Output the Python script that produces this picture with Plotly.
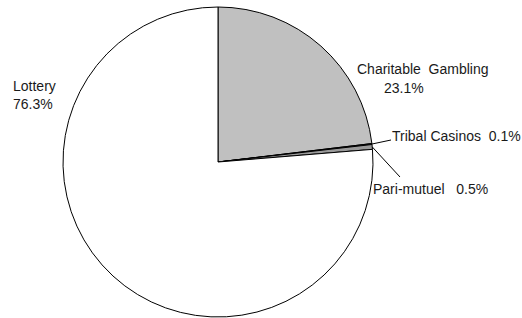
import math
import plotly.graph_objects as go

labels = ["Charitable Gambling", "Tribal Casinos", "Pari-mutuel", "Lottery"]
values = [23.1, 0.1, 0.5, 76.3]
colors = ["#c0c0c0", "#303030", "#9a9a9a", "#ffffff"]

W, H = 522, 318
cx, cy, r = 218, 162, 155

fig = go.Figure(go.Pie(
    labels=labels, values=values, sort=False, direction="clockwise", rotation=0,
    marker=dict(colors=colors, line=dict(color="#000000", width=1)),
    textinfo="none", hoverinfo="label+percent", showlegend=False,
    domain=dict(x=[(cx - r) / W, (cx + r) / W], y=[(H - cy - r) / H, (H - cy + r) / H]),
))

def px(x):
    return x / W

def py(y):
    return 1 - y / H

font = dict(family="Liberation Sans, Arial, sans-serif", size=14, color="#1a1a1a")
ann = [
    dict(x=px(355), y=py(69), text="Charitable  Gambling", xanchor="left"),
    dict(x=px(382), y=py(88), text="23.1%", xanchor="left"),
    dict(x=px(390), y=py(136), text="Tribal Casinos  0.1%", xanchor="left"),
    dict(x=px(371), y=py(189), text="Pari-mutuel   0.5%", xanchor="left"),
    dict(x=px(11), y=py(86), text="Lottery", xanchor="left"),
    dict(x=px(11), y=py(104), text="76.3%", xanchor="left"),
]
for a in ann:
    a.update(xref="paper", yref="paper", yanchor="middle", showarrow=False, font=font)

# leader lines from slice midpoints on the rim
total = sum(values)
cum = 0
mids = {}
for lab, v in zip(labels, values):
    mid = (cum + v / 2) / total * 2 * math.pi
    mids[lab] = (cx + r * math.sin(mid), cy - r * math.cos(mid))
    cum += v

shapes = []
for lab, end in [("Tribal Casinos", (391, 140)), ("Pari-mutuel", (400, 177))]:
    sx, sy = mids[lab]
    shapes.append(dict(type="line", xref="paper", yref="paper",
                       x0=px(sx), y0=py(sy), x1=px(end[0]), y1=py(end[1]),
                       line=dict(color="#000000", width=1)))

fig.update_layout(
    width=W, height=H, margin=dict(l=0, r=0, t=0, b=0),
    paper_bgcolor="#ffffff", plot_bgcolor="#ffffff",
    annotations=ann, shapes=shapes,
)
fig.write_html("out.html", config={"displayModeBar": False},
               post_script="document.body.style.margin='0';document.body.style.overflow='hidden';")
